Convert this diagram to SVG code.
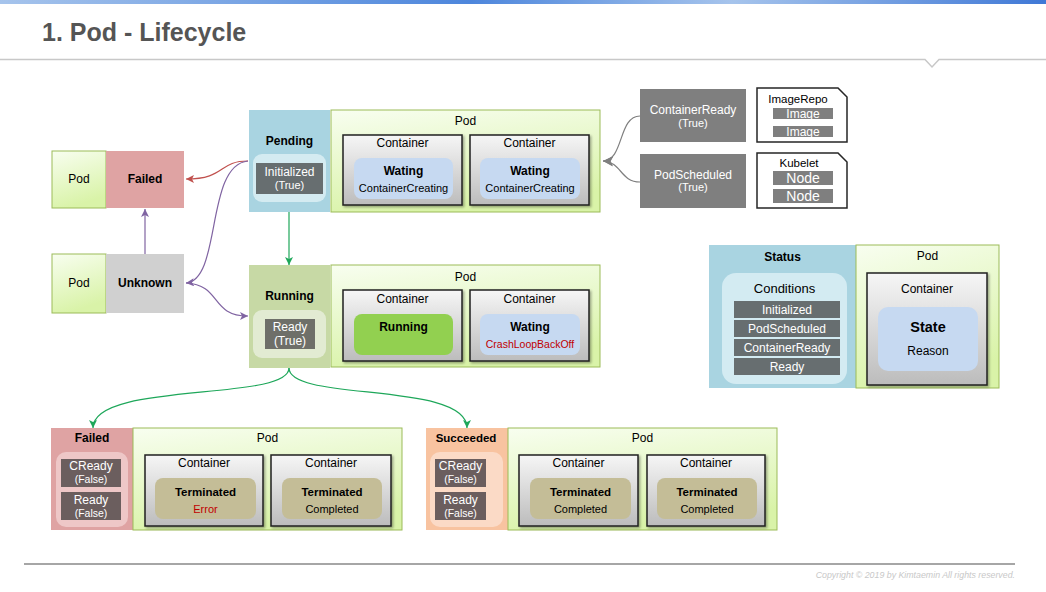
<svg xmlns="http://www.w3.org/2000/svg" width="1046" height="592" viewBox="0 0 1046 592">
<defs>
<linearGradient id="topG" x1="0" y1="0" x2="1" y2="0">
<stop offset="0" stop-color="#a6c4ec"/><stop offset="0.45" stop-color="#4d86dc"/><stop offset="0.7" stop-color="#a6c4ec"/><stop offset="1" stop-color="#3f78d6"/>
</linearGradient>
<linearGradient id="podG" x1="0" y1="0" x2="0.3" y2="1">
<stop offset="0" stop-color="#f8fef0"/><stop offset="1" stop-color="#d9f3a8"/>
</linearGradient>
<linearGradient id="contG" x1="0" y1="0" x2="0" y2="1">
<stop offset="0" stop-color="#f6f6f6"/><stop offset="1" stop-color="#bcbcbc"/>
</linearGradient>
<filter id="sh" x="-10%" y="-10%" width="130%" height="130%">
<feDropShadow dx="1.5" dy="1.5" stdDeviation="1" flood-color="#000" flood-opacity="0.35"/>
</filter>
<marker id="aRed" markerUnits="userSpaceOnUse" markerWidth="9" markerHeight="8" refX="8" refY="4" orient="auto"><path d="M0,0 L8,4 L0,8 L2,4 z" fill="#c0504d"/></marker>
<marker id="aPur" markerUnits="userSpaceOnUse" markerWidth="9" markerHeight="8" refX="8" refY="4" orient="auto"><path d="M0,0 L8,4 L0,8 L2,4 z" fill="#8064a2"/></marker>
<marker id="aGrn" markerUnits="userSpaceOnUse" markerWidth="9" markerHeight="8" refX="8" refY="4" orient="auto"><path d="M0,0 L8,4 L0,8 L2,4 z" fill="#1ea75a"/></marker>
<marker id="aGry" markerUnits="userSpaceOnUse" markerWidth="11" markerHeight="10" refX="10" refY="5" orient="auto"><path d="M0,0 L10,5 L0,10 L2.5,5 z" fill="#7f7f7f"/></marker>
</defs>
<style>
.t{font-family:"Liberation Sans",Arial,sans-serif;font-size:12px;fill:#000;text-anchor:middle}
.b{font-weight:bold}
.w{fill:#fff}
.s11{font-size:11px}
.pod{fill:url(#podG);stroke:#9bbb59;stroke-width:1}
.cont{fill:url(#contG);stroke:#1f1f1f;stroke-width:1.5;filter:url(#sh)}
.blue{fill:#c6d9f1}
.tan{fill:#c4bd97}
.cond{fill:#676e70}
.condr{fill:#6b5e5e}
.gbox{fill:#7f7f7f}
.doc{fill:#fff;stroke:#262626;stroke-width:1.5}
.ln{fill:none;stroke-width:1.2}
</style>

<g id="header">
<rect x="0" y="0" width="1046" height="4" fill="url(#topG)"/>
<text x="42" y="41" style="font-family:'Liberation Sans',Arial,sans-serif;font-size:25px;font-weight:bold;fill:#555555">1. Pod - Lifecycle</text>
<polyline points="0,59.5 925,59.5 932,67 939,59.5 1046,59.5" fill="none" stroke="#c8c8c8" stroke-width="1.5"/>
</g>

<g id="node-failed-left">
<rect class="pod" x="52" y="151" width="54" height="57"/>
<rect x="106" y="151" width="78" height="57" fill="#dfa3a3"/>
<text class="t" x="79" y="183">Pod</text>
<text class="t b" x="145" y="183">Failed</text>
</g>

<g id="node-unknown">
<rect class="pod" x="52" y="254" width="54" height="59"/>
<rect x="106" y="254" width="78" height="59" fill="#d0d0d0"/>
<text class="t" x="79" y="287">Pod</text>
<text class="t b" x="145" y="287">Unknown</text>
</g>

<g id="node-pending">
<rect x="249" y="110" width="81" height="102" fill="#a9d4e1"/>
<text class="t b" x="289.5" y="145">Pending</text>
<rect x="253" y="154" width="73" height="48" rx="9" fill="#d4ebf1"/>
<rect class="cond" x="256" y="163" width="67" height="31"/>
<text class="t w" x="289.5" y="176">Initialized</text>
<text class="t w s11" x="289.5" y="189">(True)</text>
<rect class="pod" x="331" y="110" width="269" height="102"/>
<text class="t" x="465.5" y="125">Pod</text>
<rect class="cont" x="343" y="135" width="119" height="70"/>
<text class="t" x="402.5" y="147">Container</text>
<rect class="blue" x="354" y="158" width="99" height="41" rx="8"/>
<text class="t b" x="403.5" y="175">Wating</text>
<text class="t s11" x="403.5" y="192">ContainerCreating</text>
<rect class="cont" x="470" y="135" width="119" height="70"/>
<text class="t" x="529.5" y="147">Container</text>
<rect class="blue" x="480" y="158" width="100" height="41" rx="8"/>
<text class="t b" x="530" y="175">Wating</text>
<text class="t s11" x="530" y="192">ContainerCreating</text>
</g>

<g id="node-running">
<rect x="249" y="265" width="81" height="103" fill="#c7d9a5"/>
<text class="t b" x="289.5" y="300">Running</text>
<rect x="253" y="310" width="73" height="48" rx="9" fill="#e2ebd2"/>
<rect x="265" y="319" width="50" height="30" fill="#6e6f69"/>
<text class="t w" x="290" y="331">Ready</text>
<text class="t w" x="290" y="345">(True)</text>
<rect class="pod" x="331" y="265" width="269" height="102"/>
<text class="t" x="465.5" y="281">Pod</text>
<rect class="cont" x="343" y="290" width="119" height="71"/>
<text class="t" x="402.5" y="303">Container</text>
<rect x="354" y="314" width="99" height="41" rx="8" fill="#92d050"/>
<text class="t b" x="403.5" y="331">Running</text>
<rect class="cont" x="470" y="290" width="119" height="71"/>
<text class="t" x="529.5" y="303">Container</text>
<rect class="blue" x="480" y="314" width="100" height="41" rx="8"/>
<text class="t b" x="530" y="331">Wating</text>
<text class="t" x="530" y="348" style="font-size:10.5px;fill:#c00000">CrashLoopBackOff</text>
</g>

<g id="node-containerready">
<rect class="gbox" x="640" y="89" width="106" height="53"/>
<text class="t w" x="693" y="114">ContainerReady</text>
<text class="t w s11" x="693" y="127">(True)</text>
</g>

<g id="node-podscheduled">
<rect class="gbox" x="640" y="154" width="106" height="54"/>
<text class="t w" x="693" y="179">PodScheduled</text>
<text class="t w s11" x="693" y="191">(True)</text>
</g>

<g id="node-imagerepo">
<path class="doc" d="M757,88 H838 L847,97 V142 H757 Z"/>
<text class="t" x="798" y="103" style="font-size:11.5px">ImageRepo</text>
<rect class="gbox" x="773" y="108" width="60" height="11"/>
<text class="t w" x="803" y="118">Image</text>
<rect class="gbox" x="773" y="126" width="60" height="11"/>
<text class="t w" x="803" y="136">Image</text>
</g>

<g id="node-kubelet">
<path class="doc" d="M757,153 H838 L847,162 V208 H757 Z"/>
<text class="t" x="799" y="167" style="font-size:11.5px">Kubelet</text>
<rect class="gbox" x="773" y="171" width="60" height="14"/>
<text class="t w" x="803" y="183" style="font-size:14px">Node</text>
<rect class="gbox" x="773" y="189" width="60" height="14"/>
<text class="t w" x="803" y="201" style="font-size:14px">Node</text>
</g>

<g id="node-status">
<rect x="709" y="245" width="147" height="143" fill="#a9d4e1"/>
<text class="t b" x="782.5" y="261">Status</text>
<rect x="722" y="273" width="125" height="111" rx="14" fill="#d3ebf2"/>
<text class="t" x="784.5" y="292.5" style="font-size:13px">Conditions</text>
<rect class="cond" x="734" y="301" width="106" height="17"/>
<text class="t w" x="787" y="314">Initialized</text>
<rect class="cond" x="734" y="320" width="106" height="17"/>
<text class="t w" x="787" y="333">PodScheduled</text>
<rect class="cond" x="734" y="339" width="106" height="17"/>
<text class="t w" x="787" y="352">ContainerReady</text>
<rect class="cond" x="734" y="358" width="106" height="17"/>
<text class="t w" x="787" y="371">Ready</text>
<rect class="pod" x="856" y="245" width="143" height="143"/>
<text class="t" x="927.5" y="260">Pod</text>
<rect class="cont" x="867" y="273" width="120" height="112"/>
<text class="t" x="927" y="293">Container</text>
<rect class="blue" x="878" y="307" width="100" height="64" rx="10"/>
<text class="t b" x="928" y="332" style="font-size:14.5px">State</text>
<text class="t" x="928" y="355">Reason</text>
</g>

<g id="node-failed">
<rect x="51" y="428" width="82" height="102" fill="#dfa3a3"/>
<text class="t b" x="92" y="442">Failed</text>
<rect x="56" y="452" width="72" height="75" rx="10" fill="#eec7c7"/>
<rect class="condr" x="61" y="459" width="60" height="28"/>
<text class="t w" x="91" y="470">CReady</text>
<text class="t w" x="91" y="483" style="font-size:10.5px">(False)</text>
<rect class="condr" x="61" y="492" width="60" height="28"/>
<text class="t w" x="91" y="504">Ready</text>
<text class="t w" x="91" y="517" style="font-size:10.5px">(False)</text>
<rect class="pod" x="133" y="428" width="269" height="102"/>
<text class="t" x="267.5" y="442">Pod</text>
<rect class="cont" x="145" y="455" width="118" height="71"/>
<text class="t" x="204" y="467">Container</text>
<rect class="tan" x="155" y="478" width="101" height="41" rx="8"/>
<text class="t b" x="205.5" y="496" style="font-size:11.5px">Terminated</text>
<text class="t s11" x="205.5" y="513" style="fill:#c00000">Error</text>
<rect class="cont" x="271" y="455" width="120" height="71"/>
<text class="t" x="331" y="467">Container</text>
<rect class="tan" x="282" y="478" width="100" height="41" rx="8"/>
<text class="t b" x="332" y="496" style="font-size:11.5px">Terminated</text>
<text class="t s11" x="332" y="513">Completed</text>
</g>

<g id="node-succeeded">
<rect x="426" y="428" width="82" height="102" fill="#f8c3a0"/>
<text class="t b" x="466" y="442" style="font-size:11.5px">Succeeded</text>
<rect x="430" y="452" width="73" height="75" rx="10" fill="#fbdac6"/>
<rect class="condr" x="435" y="459" width="51" height="28"/>
<text class="t w" x="460.5" y="470">CReady</text>
<text class="t w" x="460.5" y="483" style="font-size:10.5px">(False)</text>
<rect class="condr" x="435" y="492" width="51" height="28"/>
<text class="t w" x="460.5" y="504">Ready</text>
<text class="t w" x="460.5" y="517" style="font-size:10.5px">(False)</text>
<rect class="pod" x="508" y="428" width="269" height="102"/>
<text class="t" x="642.5" y="442">Pod</text>
<rect class="cont" x="519" y="455" width="119" height="71"/>
<text class="t" x="578.5" y="467">Container</text>
<rect class="tan" x="530" y="478" width="101" height="41" rx="8"/>
<text class="t b" x="580.5" y="496" style="font-size:11.5px">Terminated</text>
<text class="t s11" x="580.5" y="513">Completed</text>
<rect class="cont" x="647" y="455" width="118" height="71"/>
<text class="t" x="706" y="467">Container</text>
<rect class="tan" x="657" y="478" width="100" height="41" rx="8"/>
<text class="t b" x="707" y="496" style="font-size:11.5px">Terminated</text>
<text class="t s11" x="707" y="513">Completed</text>
</g>

<g id="connectors">
<path class="ln" stroke="#c0504d" d="M248,161 C218,161 226,179 186,179" marker-end="url(#aRed)"/>
<path class="ln" stroke="#8064a2" d="M248,161 C205,165 222,280 186,283" marker-end="url(#aPur)"/>
<path class="ln" stroke="#8064a2" d="M186,283 C222,285 210,316 248,316" marker-end="url(#aPur)"/>
<path class="ln" stroke="#8064a2" d="M145,254 L145,209" marker-end="url(#aPur)"/>
<path class="ln" stroke="#1ea75a" d="M289,212 L289,265" marker-end="url(#aGrn)"/>
<path class="ln" stroke="#1ea75a" d="M289,368 C289,402 93,381 93,428" marker-end="url(#aGrn)"/>
<path class="ln" stroke="#1ea75a" d="M289,368 C289,402 467,381 467,428" marker-end="url(#aGrn)"/>
<path class="ln" stroke="#7f7f7f" d="M640,116 C618,116 624,161 603,161" marker-end="url(#aGry)"/>
<path class="ln" stroke="#7f7f7f" d="M640,182 C620,182 622,162 603,161" marker-end="url(#aGry)"/>
</g>

<g id="footer">
<line x1="24" y1="564" x2="1015" y2="564" stroke="#a6a6a6" stroke-width="2"/>
<text x="1015" y="578" style="font-family:'Liberation Sans',Arial,sans-serif;font-size:8.8px;font-style:italic;fill:#c8c8c8;text-anchor:end">Copyright © 2019 by Kimtaemin All rights reserved.</text>
</g>
</svg>
